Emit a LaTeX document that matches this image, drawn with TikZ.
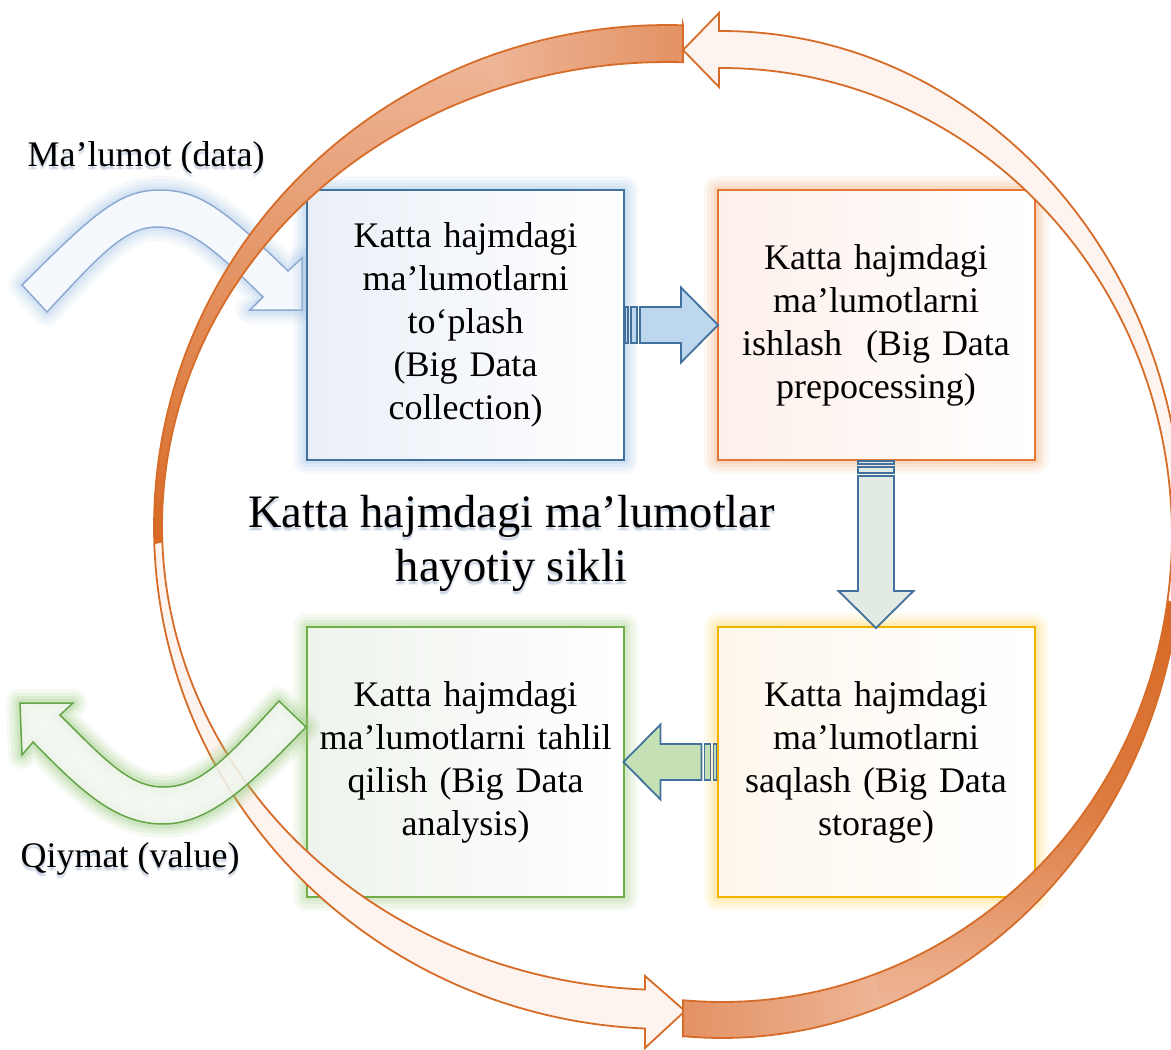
\documentclass[tikz,border=0pt]{standalone}
\usepackage{fontspec}
\setmainfont{Liberation Serif}
\usetikzlibrary{calc}

% ---------- colours ----------
\definecolor{bandline}{RGB}{214,108,40}
\definecolor{banddark}{RGB}{215,104,34}
\definecolor{bandmid}{RGB}{227,146,100}
\definecolor{bandlight}{RGB}{238,182,152}
\definecolor{bandpale}{RGB}{253,243,239}
\definecolor{blueedge}{RGB}{65,113,156}
\definecolor{blueglow}{RGB}{160,196,230}
\definecolor{bluefill}{RGB}{234,239,247}
\definecolor{orangeedge}{RGB}{229,120,52}
\definecolor{orangeglow}{RGB}{244,177,131}
\definecolor{orangefill}{RGB}{253,240,234}
\definecolor{goldedge}{RGB}{240,180,0}
\definecolor{goldglow}{RGB}{255,217,102}
\definecolor{goldfill}{RGB}{254,247,237}
\definecolor{greenedge}{RGB}{112,173,71}
\definecolor{greenglow}{RGB}{169,209,142}
\definecolor{greenfill}{RGB}{238,243,236}
\definecolor{rightfill}{RGB}{189,215,238}
\definecolor{downfill}{RGB}{226,234,228}
\definecolor{leftfill}{RGB}{197,224,180}
\definecolor{dataedge}{RGB}{143,170,210}
\definecolor{dataglow}{RGB}{170,200,235}
\definecolor{datafill}{RGB}{245,248,252}
\definecolor{valueedge}{RGB}{100,165,70}
\definecolor{valueglow}{RGB}{150,200,120}
\definecolor{valuefill}{RGB}{243,247,241}
\definecolor{shadowtint}{RGB}{90,120,170}

\tikzset{
  glow/.style={
    preaction={draw=#1, draw opacity=0.10, line width=28pt, line join=round},
    preaction={draw=#1, draw opacity=0.12, line width=21pt, line join=round},
    preaction={draw=#1, draw opacity=0.15, line width=14pt, line join=round},
    preaction={draw=#1, draw opacity=0.20, line width=8pt, line join=round}},
  card/.style={minimum width=317pt, minimum height=270pt, text width=300pt,
    align=center, inner sep=0pt, line width=2pt,
    font=\fontsize{36}{43}\selectfont},
  collectcard/.style={card, glow=blueglow, draw=blueedge, left color=bluefill, right color=white},
  processcard/.style={card, glow=orangeglow, draw=orangeedge, left color=orangefill, right color=white},
  storecard/.style={card, glow=goldglow, draw=goldedge, left color=goldfill, right color=white},
  analysecard/.style={card, glow=greenglow, draw=greenedge, left color=greenfill, right color=white},
  smallarrow/.style={draw=blueedge, line width=1.8pt, line join=miter},
  bandedge/.style={draw=bandline, line width=1.8pt, line join=miter},
  sidelabel/.style={inner sep=0pt, font=\fontsize{36}{43}\selectfont},
  titletext/.style={inner sep=0pt, align=center, font=\fontsize{46.5}{54}\selectfont},
  softshade/.style={text=shadowtint, text opacity=0.10},
}

% striped block arrow: start point, rotation, length, fill colour
\newcommand\stripedarrow[4]{%
  \begin{scope}[shift={(#1)}, rotate=#2]
    \filldraw[smallarrow, fill=#4] (0,-18) rectangle (3,18);
    \filldraw[smallarrow, fill=#4] (6,-18) rectangle (12,18);
    \filldraw[smallarrow, fill=#4] (15,-18) -- ({#3-37},-18) -- ({#3-37},-37.5)
      -- (#3,0) -- ({#3-37},37.5) -- ({#3-37},18) -- (15,18) -- cycle;
  \end{scope}}

% outlines of the two bent arrows
\def\datapath{(22,285) .. controls (95,212) and (120,190) .. (160,190)
  .. controls (200,190) and (225,210) .. (288,271) -- (302,258) -- (302,310)
  -- (250,310) -- (263,297) .. controls (215,250) and (190,227) .. (157,227)
  .. controls (125,227) and (100,255) .. (47,312) -- cycle}
\def\valuepath{(306,727) .. controls (250,785) and (210,824) .. (163,824)
  .. controls (115,824) and (80,790) .. (33,742) -- (22,755) -- (20,703)
  -- (73,703) -- (60,715) .. controls (105,760) and (130,787) .. (163,787)
  .. controls (200,787) and (225,760) .. (279,701) -- cycle}

\begin{document}
\begin{tikzpicture}[x=1pt,y=-1pt]
\path[use as bounding box] (0,0) rectangle (1171,1050);
\clip (0,0) rectangle (1171,1050);
\fill[white] (0,0) rectangle (1171,1050);

% incoming data arrow
\filldraw[glow=dataglow, fill=datafill, draw=dataedge, line width=1.5pt, line join=miter] \datapath;

% the four stages
\node[collectcard] (b1) at (465.5,325) {Katta hajmdagi\\ma’lumotlarni\\to‘plash\\ (Big Data\\collection)};
\node[processcard] (b2) at (876,325) {Katta hajmdagi\\ma’lumotlarni\\ishlash~ (Big Data\\prepocessing)};
\node[storecard] (b3) at (876,762) {Katta hajmdagi\\ma’lumotlarni\\saqlash (Big Data\\storage)};
\node[analysecard] (b4) at (465.5,762) {Katta hajmdagi\\ma’lumotlarni tahlil\\qilish (Big Data\\analysis)};

% stage-to-stage arrows
\stripedarrow{b1.east}{0}{93}{rightfill}
\stripedarrow{b2.south}{-90}{167}{downfill}
\stripedarrow{b3.west}{180}{93}{leftfill}

% ---- circular arrow running over the top, down the left side ----
\shade[left color=bandlight, right color=bandmid] (683,25.2)
  -- plot[domain=271.79:249, samples=30, variable=\t] ({667+513*cos(\t)},{527+502*sin(\t)})
  -- plot[domain=249:271.82, samples=30, variable=\t] ({667+505*cos(\t)},{526+464*sin(\t)}) -- cycle;
\shade[top color=bandlight, bottom color=banddark]
  plot[domain=250:177.5, samples=60, variable=\t] ({667+513*cos(\t)},{527+502*sin(\t)})
  -- plot[domain=177.5:250, samples=60, variable=\t] ({667+505*cos(\t)},{526+464*sin(\t)}) -- cycle;
\fill[bandpale]
  plot[domain=178:92.46, samples=60, variable=\t] ({667+513*cos(\t)},{527+502*sin(\t)})
  -- (645,1048) -- (685,1011) -- (645,976)
  -- plot[domain=92.5:178, samples=60, variable=\t] ({667+505*cos(\t)},{526+464*sin(\t)}) -- cycle;
\draw[bandedge] (683,25.2)
  -- plot[domain=271.79:92.46, samples=150, variable=\t] ({667+513*cos(\t)},{527+502*sin(\t)})
  -- (645,1048) -- (685,1011) -- (645,976)
  -- plot[domain=92.5:271.82, samples=150, variable=\t] ({667+505*cos(\t)},{526+464*sin(\t)}) -- cycle;

% ---- circular arrow running along the bottom, up the right side ----
\shade[left color=bandmid, right color=bandlight] (683,1036.2)
  -- plot[domain=94.85:69, samples=30, variable=\t] ({722+461*cos(\t)},{534.5+503.5*sin(\t)})
  -- plot[domain=69:94.97, samples=30, variable=\t] ({722+450*cos(\t)},{535+467*sin(\t)}) -- cycle;
\shade[top color=banddark, bottom color=bandlight, middle color=banddark!75!bandlight]
  plot[domain=70:7.5, samples=60, variable=\t] ({722+461*cos(\t)},{534.5+503.5*sin(\t)})
  -- plot[domain=7.5:70, samples=60, variable=\t] ({722+450*cos(\t)},{535+467*sin(\t)}) -- cycle;
\fill[bandpale]
  plot[domain=8:-90.37, samples=60, variable=\t] ({722+461*cos(\t)},{534.5+503.5*sin(\t)})
  -- (719,13) -- (683,50) -- (719,87)
  -- plot[domain=-90.38:8, samples=60, variable=\t] ({722+450*cos(\t)},{535+467*sin(\t)}) -- cycle;
\draw[bandedge] (683,1036.2)
  -- plot[domain=94.85:-90.37, samples=150, variable=\t] ({722+461*cos(\t)},{534.5+503.5*sin(\t)})
  -- (719,13) -- (683,50) -- (719,87)
  -- plot[domain=-90.38:94.97, samples=150, variable=\t] ({722+450*cos(\t)},{535+467*sin(\t)}) -- cycle;

% outgoing value arrow
\filldraw[glow=valueglow, fill=valuefill, fill opacity=0.85, draw=valueedge, line width=1.5pt, line join=miter] \valuepath;

% labels, each over a soft bluish shadow
\foreach \dx/\dy [count=\i] in {0/2,1/3,-1/3,0/4}{
  \node[sidelabel, softshade] (datashade\i) at (146+\dx,158+\dy) {Ma’lumot (data)};
  \node[sidelabel, softshade] (valueshade\i) at (130+\dx,859+\dy) {Qiymat (value)};
  \node[titletext, softshade] (titleshade\i) at (511.5+\dx,543+\dy) {Katta hajmdagi ma’lumotlar\\hayotiy sikli};
}
\node[sidelabel] (datalabel) at (146,158) {Ma’lumot (data)};
\node[sidelabel] (valuelabel) at (130,859) {Qiymat (value)};
\node[titletext] (title) at (511.5,543) {Katta hajmdagi ma’lumotlar\\hayotiy sikli};
\end{tikzpicture}
\end{document}
